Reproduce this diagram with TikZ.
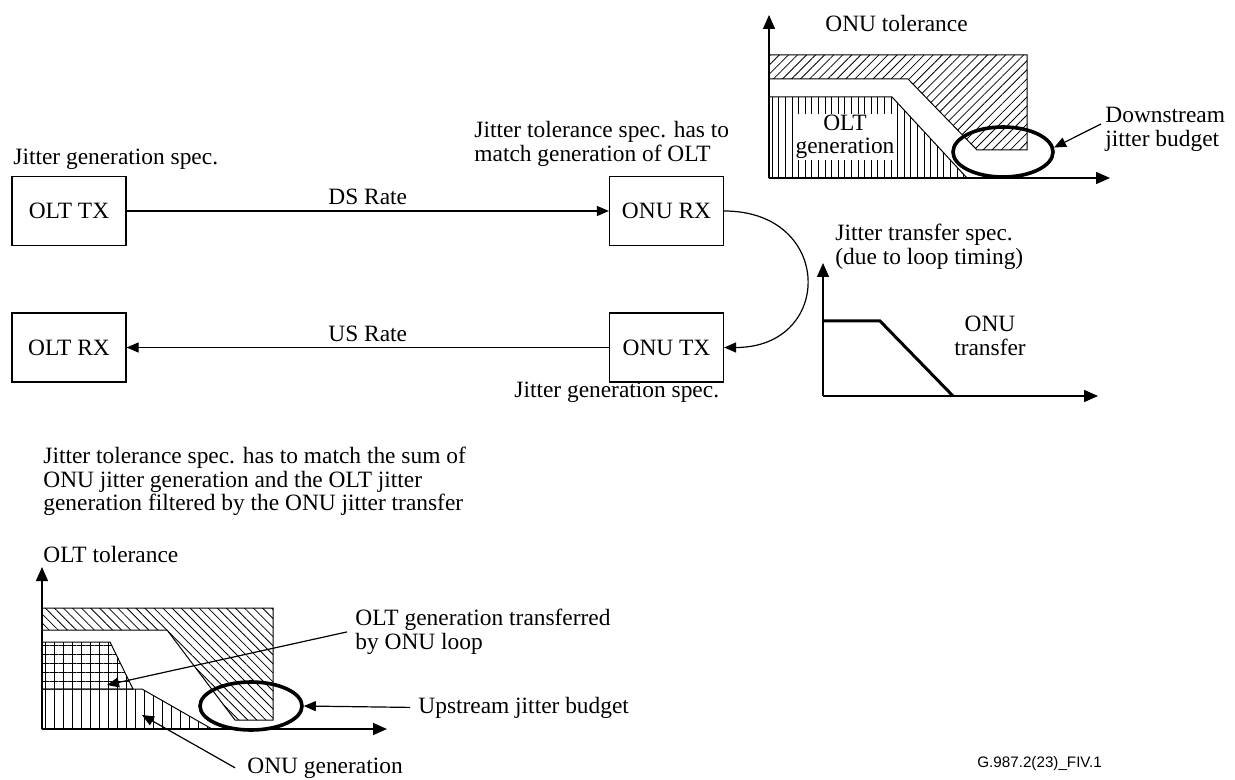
\documentclass[tikz,border=0pt]{standalone}
\usepackage{fontspec}
\setmainfont{Liberation Serif}
\setsansfont{Liberation Sans}
\usepackage{tikz}
\usetikzlibrary{arrows.meta,patterns.meta,shapes.geometric}

\tikzset{
  unit/.style={draw, line width=0.6pt, minimum width=57pt, minimum height=34.5pt, inner sep=0pt},
  note/.style={inner sep=0pt, align=left, anchor=north west},
  word/.style={inner sep=0pt, anchor=base west},
  link/.style={-{Triangle[length=6pt,width=5pt]}, line width=0.6pt},
  axis/.style={-{Triangle[length=7pt,width=6pt]}, line width=0.7pt},
  budget/.style={draw, ellipse, line width=1.8pt, inner sep=0pt},
  region/.style={draw, line width=0.5pt}
}

\begin{document}
\begin{tikzpicture}[x=0.5pt, y=-0.5pt, font=\fontsize{11.7}{11.75}\selectfont]
  \useasboundingbox (0,0) rectangle (1235,780);

  % Transmitters and receivers
  \node[unit] (olttx) at (69,211) {OLT TX};
  \node[unit] (oltrx) at (69,347.5) {OLT RX};
  \node[unit] (onurx) at (666.5,211) {ONU RX};
  \node[unit] (onutx) at (666.5,347.5) {ONU TX};

  % Downstream, upstream and loop timing
  \draw[link] (olttx) -- node[above=2.8pt, inner sep=0pt] {DS Rate} (onurx);
  \draw[link] (onutx) -- node[above=2.8pt, inner sep=0pt] {US Rate} (oltrx);
  \draw[link] (onurx.east) .. controls +(110,0) and +(110,0) .. (onutx.east);

  % Spec notes
  \node[word] (txgen) at (13,165) {Jitter generation spec.};
  \node[note] (rxtol) at (474,121) {Jitter tolerance spec. has to\\match generation of OLT};
  \node[word] (onutxgen) at (514,397) {Jitter generation spec.};
  \node[note] (olttol) at (43,447) {Jitter tolerance spec. has to match the sum of\\ONU jitter generation and the OLT jitter\\generation filtered by the ONU jitter transfer};

  % ONU tolerance chart
  \draw[region, pattern={Lines[angle=45,distance=3.2pt,line width=0.4pt]}]
    (769,55) -- (1027,55) -- (1027,150) -- (977,150) -- (908,79) -- (769,79) -- cycle;
  \draw[region, pattern={Lines[angle=90,distance=3.3pt,line width=0.4pt]}]
    (769,97) -- (892,97) -- (967,178) -- (769,178) -- cycle;
  \draw[axis] (769,178) -- (769,15);
  \draw[axis] (769,178) -- (1110,178);
  \node[word] (onutolname) at (825,32) {ONU tolerance};
  \node[inner sep=0.5pt, fill=white, align=center] (oltgen) at (845,137) {OLT\\generation};
  \node[budget, minimum width=50pt, minimum height=25pt] (dsbudget) at (1003,152) {};
  \node[note] (dstext) at (1105,107) {Downstream\\jitter budget};
  \coordinate (dsfrom) at (1101,124);
  \draw[link] (dsfrom) -- (dsbudget.5);

  % ONU transfer chart
  \node[note] (xfertitle) at (835,224) {Jitter transfer spec.\\(due to loop timing)};
  \draw[axis] (823,396) -- (823,263);
  \draw[axis] (823,396) -- (1098,396);
  \draw[line width=1.5pt] (823,321) -- (880,321) -- (953,396);
  \node[align=center, inner sep=0pt] (xfer) at (990,336) {ONU\\transfer};

  % OLT tolerance chart
  \draw[region, pattern={Lines[angle=-45,distance=3.2pt,line width=0.4pt]}]
    (42,608) -- (273,608) -- (273,720) -- (235,720) -- (167,630) -- (42,630) -- cycle;
  \draw[region, pattern={Hatch[distance=4.5pt,line width=0.4pt]}]
    (42,642) -- (110,642) -- (133,689) -- (42,689) -- cycle;
  \draw[region, pattern={Lines[angle=90,distance=4.5pt,line width=0.4pt]}]
    (42,689) -- (142,689) -- (212,729) -- (42,729) -- cycle;
  \draw[axis] (42,729) -- (42,567);
  \draw[axis] (42,729) -- (387,729);
  \node[word] (olttolname) at (43,562) {OLT tolerance};
  \node[budget, minimum width=51pt, minimum height=24pt] (usbudget) at (251,706) {};

  \node[note] (xferred) at (355,609) {OLT generation transferred\\by ONU loop};
  \coordinate (gridpt) at (107,685);
  \draw[link] ([xshift=-4pt]xferred.west) -- (gridpt);

  \node[word] (ustext) at (418,713) {Upstream jitter budget};
  \draw[link] ([xshift=-4pt]ustext.west) -- (usbudget.east);

  \node[word] (onugen) at (247,773) {ONU generation};
  \coordinate (vertpt) at (142,715);
  \draw[link] ([xshift=-6pt]onugen.west) -- (vertpt);

  \node[word, font=\sffamily\fontsize{7.6}{9}\selectfont] (figid) at (977,767) {G.987.2(23)\_FIV.1};
\end{tikzpicture}
\end{document}
